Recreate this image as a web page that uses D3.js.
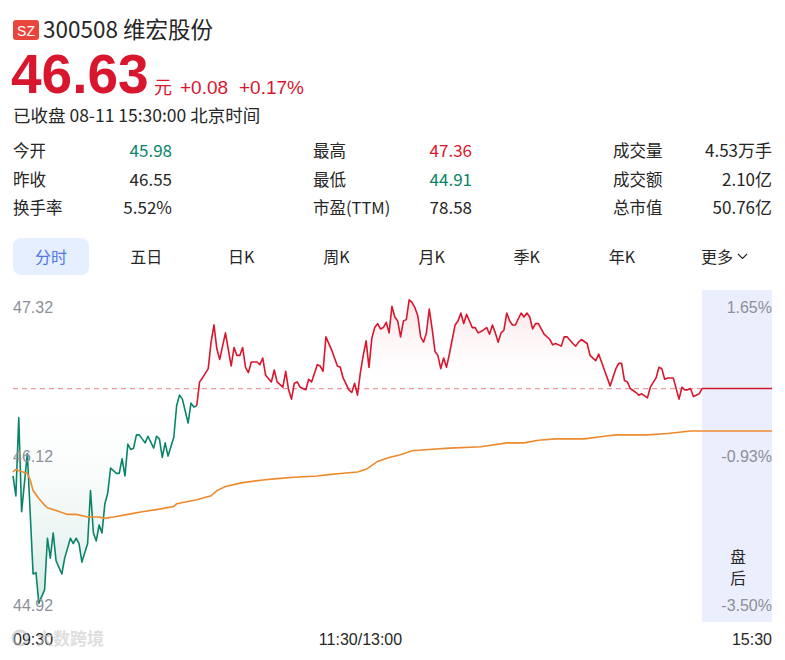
<!DOCTYPE html>
<html>
<head>
<meta charset="utf-8">
<script src="https://cdn.jsdelivr.net/npm/d3@7"></script>
<style>
  html, body { margin: 0; padding: 0; background: #fff; }
  svg { display: block; font-family: "Liberation Sans", "Noto Sans CJK SC", sans-serif; }
</style>
</head>
<body>
<svg id="chart" width="785" height="660"></svg>
<script>
// quote header
const market = 'SZ';
const stockTitle = '300508 维宏股份';
const lastPrice = '46.63';
const changeText = ['+0.08', '+0.17%'];
const statusText = '已收盘 08-11 15:30:00 北京时间';
const prevClose = 46.55;

const statLabels = [['今开', '昨收', '换手率'], ['最高', '最低', '市盈(TTM)'], ['成交量', '成交额', '总市值']];
const statValues = [['45.98', '46.55', '5.52%'], ['47.36', '44.91', '78.58'], ['4.53万手', '2.10亿', '50.76亿']];
const tabs = ['分时', '五日', '日K', '周K', '月K', '季K', '年K', '更多'];

// intraday price, minutes after 09:30 (trading time, lunch removed)
const priceMinutes = [
  0, 1, 2, 3, 5, 7, 8, 9, 11, 12,
  13, 14, 15, 17, 18, 20, 21, 22, 23, 24,
  26, 27, 28, 29, 30, 31, 32, 33, 34, 36,
  37, 38, 39, 40, 41, 42, 43, 44, 46, 47,
  49, 50, 51, 52, 53, 54, 56, 57, 58, 59,
  61, 62, 63, 64, 65, 66, 68, 69, 70, 71,
  72, 74, 76, 77, 78, 79, 80, 81, 82, 83,
  85, 86, 87, 88, 90, 91, 92, 94, 95, 96,
  97, 98, 99, 100, 102, 103, 104, 106, 107, 108,
  109, 111, 113, 114, 115, 117, 118, 119, 120, 121,
  122, 123, 124, 125, 126, 127, 128, 129, 130, 131,
  132, 133, 134, 135, 136, 137, 138, 139, 140, 141,
  142, 143, 144, 145, 146, 147, 148, 149, 150, 151,
  152, 153, 154, 155, 156, 157, 158, 159, 160, 161,
  162, 163, 165, 166, 167, 168, 169, 170, 171, 172,
  173, 174, 175, 177, 178, 179, 180, 181, 182, 183,
  184, 185, 187, 188, 189, 191, 192, 193, 195, 196,
  197, 198, 200, 201, 202, 203, 204, 205, 206, 208,
  210, 211, 212, 213, 214, 215, 217, 218, 219, 221,
  222, 224, 225, 226, 227, 228, 230, 232, 233, 234,
  235, 236, 237, 238, 239, 240
];
const prices = [
  45.89, 45.74, 46.33, 45.62, 46.06, 45.15, 45.16, 44.93, 45.03, 45.42,
  45.27, 45.46, 45.25, 45.15, 45.27, 45.42, 45.38, 45.42, 45.38, 45.24,
  45.38, 45.78, 45.46, 45.40, 45.52, 45.46, 45.68, 45.76, 45.95, 45.91,
  45.91, 46.02, 45.89, 46.13, 46.09, 46.10, 46.20, 46.20, 46.14, 46.19,
  46.10, 46.19, 46.17, 46.03, 46.14, 46.04, 46.18, 46.42, 46.50, 46.47,
  46.29, 46.44, 46.41, 46.42, 46.60, 46.63, 46.70, 46.90, 47.03, 46.85,
  46.77, 46.97, 46.72, 46.86, 46.80, 46.80, 46.86, 46.71, 46.67, 46.75,
  46.75, 46.73, 46.78, 46.65, 46.60, 46.69, 46.60, 46.56, 46.68, 46.54,
  46.47, 46.59, 46.60, 46.56, 46.54, 46.62, 46.60, 46.73, 46.72, 46.68,
  46.94, 46.84, 46.72, 46.71, 46.63, 46.54, 46.52, 46.59, 46.50, 46.67,
  46.80, 46.91, 46.71, 46.93, 47.01, 47.04, 47.00, 47.01, 47.05, 46.97,
  47.17, 47.09, 47.06, 46.94, 47.06, 47.07, 47.22, 47.20, 47.16, 47.10,
  46.94, 46.90, 46.97, 47.15, 47.00, 46.83, 46.80, 46.70, 46.78, 46.71,
  46.81, 46.92, 47.03, 47.06, 47.12, 47.04, 47.11, 47.06, 47.01, 47.01,
  46.97, 46.98, 47.01, 46.96, 47.03, 46.97, 46.90, 46.97, 46.99, 47.12,
  47.06, 47.03, 47.03, 47.12, 47.09, 47.12, 47.09, 47.00, 47.04, 47.04,
  47.00, 46.96, 46.92, 46.88, 46.89, 46.87, 46.94, 46.94, 46.89, 46.87,
  46.90, 46.92, 46.89, 46.80, 46.78, 46.76, 46.81, 46.75, 46.69, 46.57,
  46.70, 46.74, 46.74, 46.61, 46.60, 46.55, 46.52, 46.50, 46.51, 46.48,
  46.56, 46.63, 46.71, 46.70, 46.62, 46.63, 46.63, 46.47, 46.56, 46.54,
  46.54, 46.55, 46.49, 46.50, 46.51, 46.55
];

// average price line
const avgMinutes = [
  0, 1, 2, 5, 6, 7, 9, 11, 12, 15,
  19, 22, 26, 30, 32, 35, 40, 45, 51, 56,
  57, 64, 69, 71, 74, 80, 87, 92, 98, 106,
  110, 115, 120, 123, 125, 127, 131, 135, 139, 145,
  152, 163, 172, 178, 183, 189, 199, 206, 210, 221,
  228, 236, 240
];
const avgPrices = [
  45.92, 45.94, 45.93, 45.91, 45.86, 45.78, 45.72, 45.67, 45.65, 45.63,
  45.60, 45.60, 45.58, 45.58, 45.57, 45.58, 45.60, 45.62, 45.64, 45.66,
  45.68, 45.71, 45.74, 45.78, 45.81, 45.84, 45.86, 45.87, 45.88, 45.89,
  45.90, 45.91, 45.92, 45.94, 45.97, 46.00, 46.03, 46.05, 46.08, 46.09,
  46.10, 46.11, 46.14, 46.14, 46.16, 46.17, 46.17, 46.19, 46.20, 46.20,
  46.21, 46.23, 46.23
];

// after-hours session (15:00 - 15:30)
const postMinutes = [0, 30];
const postPrices = [46.55, 46.55];
const postAvg = [46.23, 46.23];

const priceTicks = ['47.32', '46.12', '44.92'];
const pctTicks = ['1.65%', '-0.93%', '-3.50%'];
const timeTicks = ['09:30', '11:30/13:00', '15:30'];
const postLabel = ['盘', '后'];

const RED = '#d8172e', GREEN = '#0a8468', ORANGE = '#ee8a2e', GRAY = '#8b9099', TEXT = '#262626';
const CJK = '"Noto Sans CJK SC", sans-serif';

const svg = d3.select('#chart');

// ---------- header ----------
svg.append('rect')
    .attr('x', 13).attr('y', 20).attr('width', 26).attr('height', 20).attr('rx', 3)
    .attr('fill', '#e8453c');
svg.append('text')
    .attr('x', 26).attr('y', 35.5).attr('text-anchor', 'middle')
    .attr('fill', '#fff').attr('font-size', 14)
    .text(market);
svg.append('text')
    .attr('x', 43).attr('y', 37.5)
    .attr('fill', TEXT).attr('font-size', 22.5).attr('font-family', CJK)
    .text(stockTitle);

svg.append('text')
    .attr('x', 11).attr('y', 93)
    .attr('fill', RED).attr('font-size', 55).attr('font-weight', 'bold')
    .text(lastPrice);
svg.append('text')
    .attr('x', 154).attr('y', 94)
    .attr('fill', RED).attr('font-size', 18).attr('font-family', CJK)
    .text('元');
svg.append('text')
    .attr('x', 180).attr('y', 94)
    .attr('fill', RED).attr('font-size', 19)
    .text(changeText[0]);
svg.append('text')
    .attr('x', 239).attr('y', 94)
    .attr('fill', RED).attr('font-size', 19)
    .text(changeText[1]);
svg.append('text')
    .attr('x', 13).attr('y', 122)
    .attr('fill', TEXT).attr('font-size', 17.5).attr('font-family', CJK)
    .text(statusText);

// ---------- stats table ----------
const colX = d3.scalePoint().domain(d3.range(statLabels.length)).range([13, 613]);
const rowY = d3.scalePoint().domain(d3.range(3)).range([157, 214]);
const colorKeys = new Set(['今开', '最高', '最低']);
statLabels.forEach((col, ci) => {
  col.forEach((lab, ri) => {
    svg.append('text')
        .attr('x', colX(ci)).attr('y', rowY(ri))
        .attr('fill', TEXT).attr('font-size', 16.5).attr('font-family', CJK)
        .text(lab);
    const v = statValues[ci][ri];
    let fill = TEXT;
    if (colorKeys.has(lab)) fill = +v > prevClose ? RED : GREEN;
    svg.append('text')
        .attr('x', colX(ci) + 159).attr('y', rowY(ri))
        .attr('text-anchor', 'end')
        .attr('fill', fill).attr('font-size', 17).attr('font-family', CJK)
        .text(v);
  });
});

// ---------- tabs ----------
const tabX = d3.scalePoint().domain(tabs).range([51, 717]);
svg.append('rect')
    .attr('x', 13).attr('y', 238).attr('width', 76).attr('height', 37).attr('rx', 8)
    .attr('fill', '#e5efff');
tabs.forEach((t, i) => {
  svg.append('text')
      .attr('x', tabX(t)).attr('y', 262.5)
      .attr('text-anchor', 'middle')
      .attr('fill', i === 0 ? '#4f78e6' : TEXT)
      .attr('font-size', 16).attr('font-family', CJK)
      .text(t);
});
svg.append('path')
    .attr('d', `M${tabX('更多') + 21},254 l4.5,4.5 l4.5,-4.5`)
    .attr('fill', 'none').attr('stroke', TEXT).attr('stroke-width', 1.2);

// ---------- chart ----------
const x = d3.scaleLinear().domain([0, 240]).range([13, 702]);
const xPost = d3.scaleLinear().domain([0, 30]).range([702, 772]);
const y = d3.scaleLinear().domain([44.92, 47.32]).range([604.5, 286.5]);
const chartTop = 290, chartBottom = 622;

svg.append('rect')
    .attr('x', xPost(0)).attr('y', chartTop)
    .attr('width', xPost(30) - xPost(0)).attr('height', chartBottom - chartTop)
    .attr('fill', '#ebeefc');

const defs = svg.append('defs');
const baseOff = (y(prevClose) - y(47.32)) / (y(44.92) - y(47.32));
const grad = defs.append('linearGradient')
    .attr('id', 'areaFill').attr('gradientUnits', 'userSpaceOnUse')
    .attr('x1', 0).attr('x2', 0).attr('y1', y(47.32)).attr('y2', y(44.92));
grad.append('stop').attr('offset', 0).attr('stop-color', RED).attr('stop-opacity', 0.17);
grad.append('stop').attr('offset', baseOff).attr('stop-color', '#ffffff').attr('stop-opacity', 0);
grad.append('stop').attr('offset', 1).attr('stop-color', GREEN).attr('stop-opacity', 0.17);

const pts = priceMinutes.map((m, i) => [m, prices[i]]);
const area = d3.area()
    .x(d => x(d[0]))
    .y0(y(prevClose))
    .y1(d => y(d[1]));
svg.append('path')
    .datum(pts)
    .attr('d', area)
    .attr('fill', 'url(#areaFill)');

// previous close
svg.append('line')
    .attr('x1', x(0)).attr('x2', x(240))
    .attr('y1', y(prevClose)).attr('y2', y(prevClose))
    .attr('stroke', '#ef9aa3').attr('stroke-width', 1.2)
    .attr('stroke-dasharray', '5,4');

const line = d3.line().x(d => x(d[0])).y(d => y(d[1]));
const cross = prices.findIndex(p => p > prevClose);
svg.append('path')
    .datum(pts.slice(0, cross))
    .attr('d', line)
    .attr('fill', 'none').attr('stroke', GREEN).attr('stroke-width', 1.6)
    .attr('stroke-linejoin', 'round');
svg.append('path')
    .datum(pts.slice(cross - 1))
    .attr('d', line)
    .attr('fill', 'none').attr('stroke', RED).attr('stroke-width', 1.6)
    .attr('stroke-linejoin', 'round');

svg.append('path')
    .datum(avgMinutes.map((m, i) => [m, avgPrices[i]]))
    .attr('d', line)
    .attr('fill', 'none').attr('stroke', ORANGE).attr('stroke-width', 1.6);

const postLine = d3.line().x(d => xPost(d[0])).y(d => y(d[1]));
svg.append('path')
    .datum(postMinutes.map((m, i) => [m, postPrices[i]]))
    .attr('d', postLine)
    .attr('fill', 'none').attr('stroke', RED).attr('stroke-width', 1.6);
svg.append('path')
    .datum(postMinutes.map((m, i) => [m, postAvg[i]]))
    .attr('d', postLine)
    .attr('fill', 'none').attr('stroke', ORANGE).attr('stroke-width', 1.6);

// axis labels
const tickY = d3.scalePoint().domain(d3.range(priceTicks.length)).range([307, 605]);
priceTicks.forEach((t, i) => {
  svg.append('text')
      .attr('x', 13).attr('y', tickY(i)).attr('dy', '0.36em')
      .attr('fill', GRAY).attr('font-size', 16)
      .text(t);
  svg.append('text')
      .attr('x', xPost(30)).attr('y', tickY(i)).attr('dy', '0.36em')
      .attr('text-anchor', 'end')
      .attr('fill', GRAY).attr('font-size', 16)
      .text(pctTicks[i]);
});

const timePos = [[x(0), 'start'], [x(120), 'middle'], [xPost(30), 'end']];
timeTicks.forEach((t, i) => {
  svg.append('text')
      .attr('x', timePos[i][0] + (i === 1 ? 3 : 0)).attr('y', 645)
      .attr('text-anchor', timePos[i][1])
      .attr('fill', TEXT).attr('font-size', 16)
      .text(t);
});

// vertical "after hours" label, one text element
const postText = svg.append('text')
    .attr('text-anchor', 'middle')
    .attr('fill', TEXT).attr('font-size', 15.5).attr('font-family', CJK);
postLabel.forEach((c, i) => {
  postText.append('tspan')
      .attr('x', (xPost(0) + xPost(30)) / 2 + 1).attr('y', 563 + i * 21)
      .text(c);
});

// watermark (sits over the first time label, as in the screenshot)
const wm = svg.append('g').attr('opacity', 0.55);
wm.append('circle').attr('cx', 20).attr('cy', 638).attr('r', 7)
    .attr('fill', 'none').attr('stroke', '#bbb').attr('stroke-width', 3);
wm.append('text')
    .attr('x', 36).attr('y', 645)
    .attr('fill', '#c4c4c4').attr('font-size', 17).attr('font-weight', 'bold')
    .attr('font-family', CJK)
    .text('大数跨境');
</script>
</body>
</html>
